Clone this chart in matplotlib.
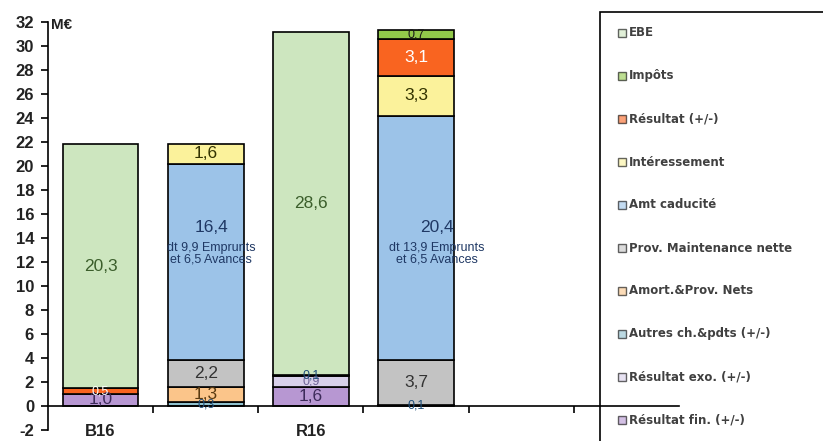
import matplotlib.pyplot as plt
from matplotlib.patches import Rectangle
import numpy as np

# categories (6 slots, only the first four carry bars)
slots = ["B16", "", "R16", "", "", ""]
n_bars = 4

# series from bottom of the stack to the top
series_names = ["Résultat fin. (+/-)", "Résultat exo. (+/-)", "Autres ch.&pdts (+/-)",
                "Amort.&Prov. Nets", "Prov. Maintenance nette", "Amt caducité",
                "Intéressement", "Résultat (+/-)", "Impôts", "EBE"]
res_fin = [1.0, 0, 1.6, 0]
res_exo = [0, 0, 0.9, 0]
autres = [0, 0.3, 0.1, 0.1]
amort = [0, 1.3, 0, 0]
prov_maint = [0, 2.2, 0, 3.7]
amt_caducite = [0, 16.4, 0, 20.4]
interessement = [0, 1.6, 0, 3.3]
resultat = [0.5, 0, 0, 3.1]
impots = [0, 0, 0, 0.7]
ebe = [20.3, 0, 28.6, 0]
values = [res_fin, res_exo, autres, amort, prov_maint, amt_caducite,
          interessement, resultat, impots, ebe]
amt_details = ["", "dt 9,9 Emprunts\net 6,5 Avances", "", "dt 13,9 Emprunts\net 6,5 Avances"]

colors = ["#b797d2", "#d8d0ea", "#8fc1cf", "#fbc58a", "#c3c3c3", "#9cc3e8",
          "#fbf29b", "#f96420", "#92c94a", "#cde6bf"]
label_colors = ["#3d2b5a", "#6f6596", "#1f4e79", "#5a3a10", "#333333", "#1f3864",
                "#333300", "white", "#1a1a1a", "#3b5e2b"]

W, H = 823, 441
fig = plt.figure(figsize=(W / 100, H / 100), dpi=100)
ax = fig.add_axes([48 / W, 11 / H, (679 - 48) / W, 408 / H])
ax.set_xlim(-0.5, len(slots) - 0.5)
ax.set_ylim(-2, 32)

x = np.arange(n_bars)
bottom = np.zeros(n_bars)
for name, vals, col, lcol in zip(series_names, values, colors, label_colors):
    vals = np.array(vals, dtype=float)
    mask = vals > 0
    ax.bar(x[mask], vals[mask], bottom=bottom[mask], width=0.72, color=col,
           edgecolor="black", linewidth=1.2, zorder=2)
    for i in np.where(mask)[0]:
        txt = f"{vals[i]:.1f}".replace(".", ",")
        yc = bottom[i] + vals[i] / 2
        if name == "Amt caducité":
            dx = 0.05 if i == 1 else 0.2
            ax.text(i + dx, 14.9, txt, ha="center", va="center", fontsize=12.5,
                    color=lcol, family="Liberation Sans", zorder=3)
            ax.text(i + dx, 12.7, amt_details[i], ha="center", va="center", fontsize=9,
                    color=lcol, family="Liberation Sans", linespacing=1.0, zorder=3)
        else:
            small = vals[i] < 1
            ax.text(i, yc, txt, ha="center", va="center",
                    fontsize=9 if small else 12.5, color=lcol,
                    family="Liberation Sans", zorder=3, clip_on=False)
    bottom = bottom + vals

# axes styling
for s in ["top", "right"]:
    ax.spines[s].set_visible(False)
ax.spines["bottom"].set_position(("data", 0))
ax.spines["left"].set_linewidth(1.2)
ax.spines["bottom"].set_linewidth(1.2)
ax.set_yticks(np.arange(-2, 33, 2))
ax.set_yticklabels([str(v) for v in range(-2, 33, 2)], fontsize=12,
                   fontweight="bold", family="Liberation Sans", color="#222222")
ax.tick_params(axis="y", direction="out", length=5, width=1.2, pad=5)
ax.set_xticks(np.arange(0.5, len(slots) - 0.5, 1))
ax.set_xticklabels([])
ax.set_xticks(np.arange(len(slots)), minor=True)
ax.set_xticklabels(slots, minor=True, fontsize=12, fontweight="bold",
                   family="Liberation Sans", color="#222222")
ax.tick_params(axis="x", which="major", direction="out", length=5, width=1.2)
ax.tick_params(axis="x", which="minor", length=0, pad=13)
ax.text(-0.47, 31.75, "M€", ha="left", va="center", fontsize=11,
        fontweight="bold", family="Liberation Sans", color="#222222")

# legend box drawn by hand
fig.add_artist(Rectangle((600 / W, -0.1), 0.5, (H - 12) / H + 0.1,
                         transform=fig.transFigure, fill=False,
                         edgecolor="black", linewidth=1.2))
for k, (name, col) in enumerate(zip(series_names[::-1], colors[::-1])):
    yc = 33 + k * 43.0
    fig.add_artist(Rectangle((618 / W, (H - yc - 4) / H), 8 / W, 8 / H,
                             transform=fig.transFigure, facecolor=col, alpha=0.6,
                             edgecolor="black", linewidth=1.0))
    fig.text(629 / W, (H - yc) / H, name, ha="left", va="center", fontsize=8.5,
             fontweight="bold", family="DejaVu Sans", color="#404040")

fig.savefig("out.png", dpi=100)
